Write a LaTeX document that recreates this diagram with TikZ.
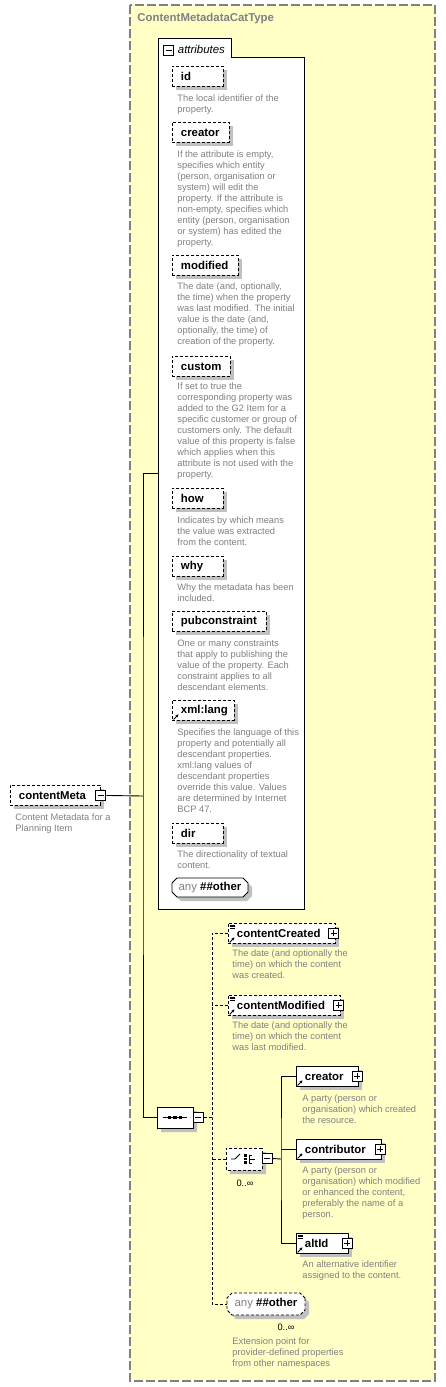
\documentclass[tikz,border=0pt]{standalone}
\usepackage{fontspec}
\setmainfont{Liberation Sans}
\usetikzlibrary{shadows}
\usetikzlibrary{arrows.meta}
\usetikzlibrary{shapes.misc}
\usetikzlibrary{calc,positioning}

\definecolor{typeyellow}{RGB}{255,255,198}
\definecolor{framegray}{RGB}{128,128,128}
\definecolor{descgray}{RGB}{128,128,128}
\definecolor{shadowgray}{RGB}{192,192,192}

\newcommand{\labelfont}{\fontsize{11.4}{13}\selectfont\bfseries}
\newcommand{\descfont}{\fontsize{9.3}{11}\selectfont}
% small icons inside the element boxes
\newcommand{\refarrow}[1]{\draw[-{Stealth[length=3pt,width=3pt]}, line width=0.9pt] ([xshift=1.5pt,yshift=1.5pt]#1.south west) -- ++(5,-5);}
\newcommand{\simpleicon}[1]{\foreach \k in {0,1,2} \draw[line width=0.6pt, solid] ([xshift=1.5pt,yshift={-(2+1.6*\k)*1pt}]#1.north west) -- ++(5,0);}

\tikzset{
  boxshadow/.style={drop shadow={shadow xshift=4pt, shadow yshift=-4pt, fill=shadowgray, opacity=1}},
  smalldash/.style={dash pattern=on 3pt off 2pt},
  elem/.style={draw, fill=white, boxshadow, anchor=north west, minimum height=20pt,
    inner xsep=8.5pt, inner ysep=0pt, align=left, font=\labelfont},
  attr/.style={elem, smalldash},
  desc/.style={anchor=north west, align=left, inner sep=0pt, font=\descfont, text=descgray},
  plusbox/.style={draw, solid, fill=white, minimum size=10pt, inner sep=0pt, line width=1pt, path picture={
      \draw ([xshift=2pt]path picture bounding box.west) -- ([xshift=-2pt]path picture bounding box.east);
      \draw ([yshift=-2pt]path picture bounding box.north) -- ([yshift=2pt]path picture bounding box.south);}},
  minusbox/.style={draw, solid, fill=white, minimum size=10pt, inner sep=0pt, line width=1pt, path picture={
      \draw ([xshift=2pt]path picture bounding box.west) -- ([xshift=-2pt]path picture bounding box.east);}},
  compositor/.style={chamfered rectangle, chamfered rectangle xsep=2.5pt, chamfered rectangle ysep=2.5pt,
    draw, fill=white, boxshadow, inner sep=0pt},
  occurs/.style={font=\descfont, inner sep=0pt}
}

\begin{document}
\begin{tikzpicture}[x=1pt, y=-1pt, line width=0.9pt]
	\useasboundingbox (0,0) rectangle (445,1387);

	% complex type
	\draw[fill=typeyellow, draw=framegray, line width=1.3pt, dash pattern=on 9pt off 3pt] (130,5) rectangle (435,1381);
	\node[anchor=west, font=\labelfont, text=framegray, inner sep=0pt] (typename) at (137,19) {ContentMetadataCatType};

	% attributes group
	\draw[fill=white] (158,38) -- (231,38) -- (231,57) -- (304,57) -- (304,909) -- (158,909) -- cycle;
	\coordinate (attrs) at (158,473.5);
	\node[minusbox] (attrminus) at (168.5,50) {};
	\node[anchor=west, inner sep=0pt, font=\fontsize{11.4}{13}\selectfont\itshape] (attrlabel) at (177.5,49) {attributes};

	% attributes
	\node[attr, text width=34pt] (idattr) at (172,66) {id};
	\node[desc] (iddesc) at (177,94) {The local identifier of the\\property.};
	\node[attr, text width=40pt] (creatorattr) at (172,122) {creator};
	\node[desc] (creatordesc) at (177,150) {If the attribute is empty,\\specifies which entity\\(person, organisation or\\system) will edit the\\property. If the attribute is\\non-empty, specifies which\\entity (person, organisation\\or system) has edited the\\property.};
	\node[attr, text width=49pt] (modattr) at (172,255) {modified};
	\node[desc] (moddesc) at (177,282) {The date (and, optionally,\\the time) when the property\\was last modified. The initial\\value is the date (and,\\optionally, the time) of\\creation of the property.};
	\node[attr, text width=41pt] (customattr) at (172,356) {custom};
	\node[desc] (customdesc) at (177,382) {If set to true the\\corresponding property was\\added to the G2 Item for a\\specific customer or group of\\customers only. The default\\value of this property is false\\which applies when this\\attribute is not used with the\\property.};
	\node[attr, text width=34pt] (howattr) at (172,488) {how};
	\node[desc] (howdesc) at (177,516) {Indicates by which means\\the value was extracted\\from the content.};
	\node[attr, text width=34pt] (whyattr) at (172,556) {why};
	\node[desc] (whydesc) at (177,583) {Why the metadata has been\\included.};
	\node[attr, text width=77pt] (pubattr) at (172,611) {pubconstraint};
	\node[desc] (pubdesc) at (177,639) {One or many constraints\\that apply to publishing the\\value of the property. Each\\constraint applies to all\\descendant elements.};
	\node[attr, text width=45pt] (langattr) at (172,700) {xml:lang};
	\refarrow{langattr}
	\node[desc] (langdesc) at (177,728) {Specifies the language of this\\property and potentially all\\descendant properties.\\xml:lang values of\\descendant properties\\override this value. Values\\are determined by Internet\\BCP 47.};
	\node[attr, text width=34pt] (dirattr) at (172,823) {dir};
	\node[desc] (dirdesc) at (177,850) {The directionality of textual\\content.};
	\node[compositor, minimum width=76pt, minimum height=19pt, font=\labelfont] (anyattr) at (210,887.5) {{\mdseries\color{descgray}any}~\#\#other};

	% root element
	\node[attr, text width=73pt] (meta) at (10,785) {contentMeta};
	\node[minusbox] (metaminus) at (meta.east) {};
	\node[desc] (metadesc) at (15,813) {Content Metadata for a\\Planning Item};

	% sequence
	\node[compositor, minimum width=36pt, minimum height=21pt] (seq) at (175,1117.5) {};
	\draw ([xshift=6pt]seq.west) -- ([xshift=-6pt]seq.east);
	\foreach \d in {-5.5,0,5.5}
		\fill ([xshift=\d pt]seq.center) +(-1.6,-1.6) rectangle +(1.6,1.6);
	\node[minusbox] (seqminus) at (198,1117.5) {};

	% connectors of the root
	\coordinate (metatrunk) at (143,796);
	\draw (metaminus.east) -- (metatrunk);
	\draw (attrs) -| (metatrunk) |- (seq.west);

	% elements of the sequence
	\node[attr, text width=90pt] (ccreated) at (228,923) {contentCreated};
	\simpleicon{ccreated} \refarrow{ccreated}
	\node[plusbox] (ccreatedplus) at ([xshift=-2pt]ccreated.east) {};
	\node[desc] (ccreateddesc) at (232,949) {The date (and optionally the\\time) on which the content\\was created.};
	\node[attr, text width=95pt] (cmodified) at (228,995) {contentModified};
	\simpleicon{cmodified} \refarrow{cmodified}
	\node[plusbox] (cmodifiedplus) at ([xshift=-2pt]cmodified.east) {};
	\node[desc] (cmodifieddesc) at (232,1021) {The date (and optionally the\\time) on which the content\\was last modified.};

	% choice
	\node[compositor, smalldash, minimum width=36pt, minimum height=22pt] (choice) at (244,1159) {};
	\draw (choice.center) ++(-13,0) -- ++(4,0) -- ++(5,-5);
	\foreach \d in {-3.5,0,3.5}
		\fill ([yshift=\d pt]choice.center) +(0,-1.3) rectangle +(2.6,1.3);
	\draw (choice.center) ++(5,-4) -- ++(0,8) (choice.center) ++(5,-4) -- ++(3,0)
		(choice.center) ++(5,4) -- ++(3,0) (choice.center) ++(5,0) -- ++(6,0);
	\node[minusbox] (chminus) at (267,1158.5) {};
	\node[occurs] (choiceocc) at (245,1183) {0..∞};

	\node[elem, text width=45pt] (crel) at (296,1066) {creator};
	\refarrow{crel}
	\node[plusbox] (crelplus) at ([xshift=-1.5pt]crel.east) {};
	\node[desc] (creldesc) at (302,1094) {A party (person or\\organisation) which created\\the resource.};
	\node[elem, text width=68pt] (contrib) at (296,1139) {contributor};
	\refarrow{contrib}
	\node[plusbox] (contribplus) at ([xshift=-1.5pt]contrib.east) {};
	\node[desc] (contribdesc) at (302,1166) {A party (person or\\organisation) which modified\\or enhanced the content,\\preferably the name of a\\person.};
	\node[elem, text width=35pt] (altid) at (296,1233) {altId};
	\simpleicon{altid} \refarrow{altid}
	\node[plusbox] (altidplus) at ([xshift=-1.5pt]altid.east) {};
	\node[desc] (altiddesc) at (302,1260) {An alternative identifier\\assigned to the content.};

	% any element
	\node[compositor, smalldash, minimum width=78pt, minimum height=22pt, font=\labelfont] (anyel) at (266,1304) {{\mdseries\color{descgray}any}~\#\#other};
	\node[occurs] (anyocc) at (286,1327) {0..∞};
	\node[desc] (anydesc) at (232,1337) {Extension point for\\provider-defined properties\\from other namespaces};

	% connectors of the sequence
	\coordinate (seqtrunk) at (212,1117.5);
	\draw[smalldash] (seqminus.east) -- (seqtrunk);
	\draw[smalldash] (ccreated.west) -| (seqtrunk) |- (anyel.west);
	\draw[smalldash] (cmodified.west) -- (cmodified.west -| seqtrunk);
	\draw[smalldash] (choice.west) -- (choice.west -| seqtrunk);

	% connectors of the choice
	\coordinate (choicetrunk) at (281,1159);
	\draw (chminus.east) -- (choicetrunk);
	\draw (crel.west) -| (choicetrunk) |- (altid.west);
	\draw (contrib.west) -- (contrib.west -| choicetrunk);
\end{tikzpicture}
\end{document}
